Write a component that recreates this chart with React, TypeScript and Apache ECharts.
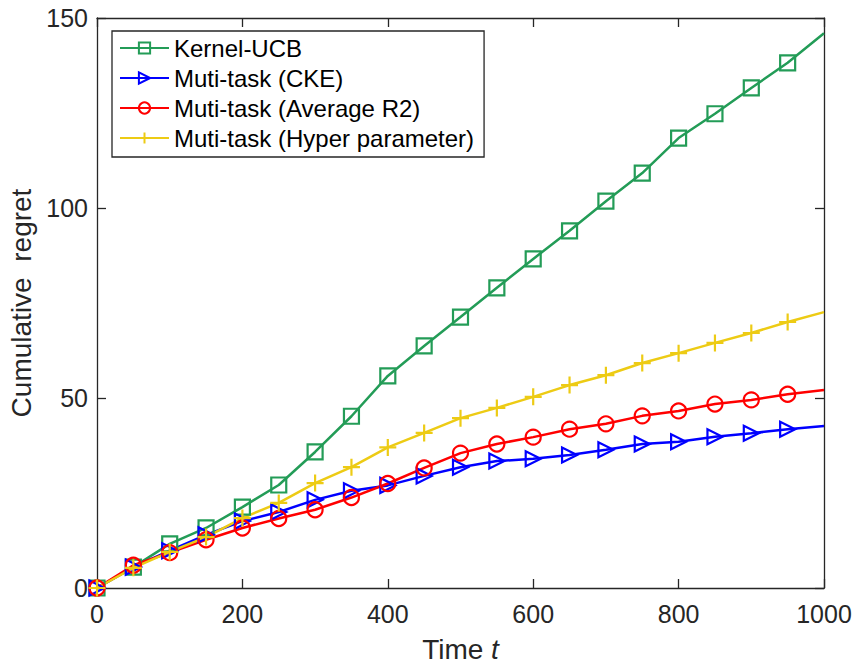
import React, { useEffect, useRef } from "react";
import * as echarts from "echarts";

// Time steps (markers every 50 steps, line continues to 1000)
const timeSteps = [0, 50, 100, 150, 200, 250, 300, 350, 400, 450, 500, 550, 600, 650, 700, 750, 800, 850, 900, 950, 1000];

const kernelUCB = [0, 5.5, 11.6, 15.8, 21.3, 27.1, 35.8, 45.2, 55.8, 63.7, 71.3, 79.0, 86.6, 94.0, 101.8, 109.2, 118.4, 124.8, 131.6, 138.2, 146.0];
const multiTaskCKE = [0, 5.5, 9.8, 14.0, 17.6, 20.0, 23.2, 25.6, 27.0, 29.5, 31.8, 33.4, 34.0, 35.0, 36.4, 37.9, 38.5, 39.8, 40.7, 41.8, 42.6];
const multiTaskAvgR2 = [0, 6.0, 9.3, 12.7, 15.8, 18.3, 20.6, 23.8, 27.5, 31.6, 35.5, 37.9, 39.7, 41.8, 43.2, 45.3, 46.6, 48.4, 49.5, 51.0, 52.1];
const multiTaskHyper = [0, 5.3, 9.5, 13.4, 18.4, 22.4, 27.6, 31.8, 37.0, 40.8, 44.7, 47.4, 50.3, 53.4, 56.0, 59.2, 61.8, 64.5, 67.1, 70.0, 72.6];

const seriesNames = ["Kernel-UCB", "Muti-task (CKE)", "Muti-task (Average R2)", "Muti-task (Hyper parameter)"];
const xTicks = { min: 0, max: 1000, interval: 200 };
const yTicks = { min: 0, max: 150, interval: 50 };

const FONT = "'Liberation Sans', Arial, Helvetica, sans-serif";
const AXIS_COLOR = "#262626";

const GREEN = "#239C57";
const BLUE = "#0000FF";
const RED = "#FF0000";
const YELLOW = "#EDCB14";

const PLUS = "path://M8,0 L8,16 M0,8 L16,8";

function toData(values: number[]) {
  // last point (t = 1000) carries no marker
  return values.map((v, i) =>
    i === values.length - 1
      ? { value: [timeSteps[i], v], symbol: "none" }
      : { value: [timeSteps[i], v] }
  );
}

function lineSeries(name: string, values: number[], color: string, symbol: string, symbolSize: number, rotate = 0) {
  return {
    name,
    type: "line",
    data: toData(values),
    symbol,
    symbolSize,
    symbolRotate: rotate,
    showAllSymbol: true,
    lineStyle: { color, width: 2.5 },
    itemStyle: { color: "rgba(0,0,0,0)", borderColor: color, borderWidth: 2.2 },
    emphasis: { disabled: true },
    z: 2,
  };
}

export default function App() {
  const ref = useRef<HTMLDivElement>(null);

  useEffect(() => {
    if (!ref.current) return;
    const chart = echarts.init(ref.current, undefined, { renderer: "svg" });
    const axisCommon = {
      type: "value",
      axisLine: { show: true, onZero: false, lineStyle: { color: AXIS_COLOR, width: 1.3 } },
      axisTick: { show: true, inside: true, length: 9, lineStyle: { color: AXIS_COLOR, width: 1.3 } },
      splitLine: { show: false },
    };
    chart.setOption({
      animation: false,
      backgroundColor: "#ffffff",
      grid: { left: 97, right: 31, top: 18, bottom: 75, outerBoundsMode: "none", containLabel: false },
      legend: {
        orient: "vertical",
        left: 112,
        top: 31,
        data: seriesNames,
        itemWidth: 49,
        itemHeight: 14,
        itemGap: 6,
        padding: [5, 10, 7, 7],
        borderColor: AXIS_COLOR,
        borderWidth: 1.3,
        backgroundColor: "#ffffff",
        textStyle: { fontFamily: FONT, fontSize: 24, color: "#000", lineHeight: 24 },
        selectedMode: false,
      },
      xAxis: [
        {
          ...axisCommon,
          position: "bottom",
          ...xTicks,
          name: "{a|Time }{b|t}",
          nameLocation: "middle",
          nameGap: 47,
          nameTextStyle: {
            rich: {
              a: { fontFamily: FONT, fontSize: 28, color: AXIS_COLOR },
              b: { fontFamily: FONT, fontSize: 28, color: AXIS_COLOR, fontStyle: "italic" },
            },
          },
          axisLabel: {
            fontFamily: FONT,
            fontSize: 25,
            color: AXIS_COLOR,
            margin: 13,
            formatter: (v: number) => String(v),
          },
        },
        {
          ...axisCommon,
          position: "top",
          ...xTicks,
          axisLabel: { show: false },
        },
      ],
      yAxis: [
        {
          ...axisCommon,
          position: "left",
          ...yTicks,
          name: "Cumulative  regret",
          nameLocation: "middle",
          nameGap: 62,
          nameTextStyle: { fontFamily: FONT, fontSize: 28, color: AXIS_COLOR },
          axisLabel: {
            fontFamily: FONT,
            fontSize: 25,
            color: AXIS_COLOR,
            margin: 9,
            formatter: (v: number) => String(v),
          },
        },
        {
          ...axisCommon,
          position: "right",
          ...yTicks,
          axisLabel: { show: false },
        },
      ],
      series: [
        lineSeries(seriesNames[0], kernelUCB, GREEN, "rect", 15),
        lineSeries(seriesNames[1], multiTaskCKE, BLUE, "triangle", 15, -90),
        lineSeries(seriesNames[2], multiTaskAvgR2, RED, "circle", 15),
        lineSeries(seriesNames[3], multiTaskHyper, YELLOW, PLUS, 17),
      ],
    });
    return () => chart.dispose();
  }, []);

  return (
    <div
      ref={ref}
      style={{ position: "fixed", left: 0, top: 0, width: 855, height: 663 }}
    />
  );
}
